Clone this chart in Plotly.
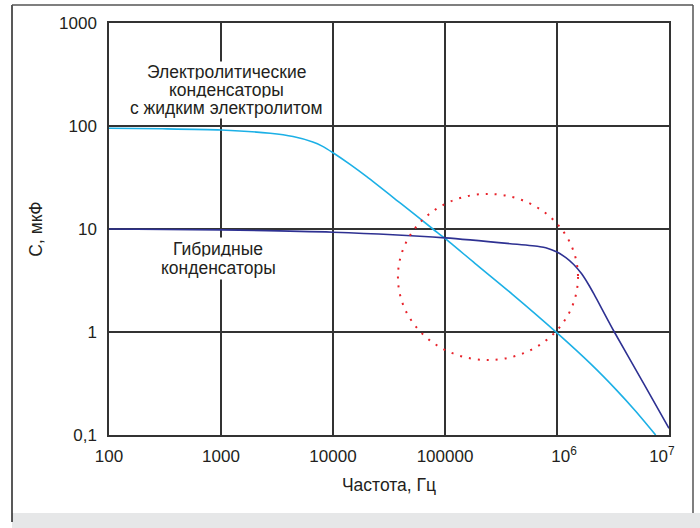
import numpy as np
import plotly.graph_objects as go

# ---- data ----
freq_electrolytic = [100, 300, 1000, 2750, 4400, 6600, 8000, 10000, 14200, 20000,
                     40000, 78000, 100000, 185000, 400000, 1000000, 2000000, 3400000,
                     5000000, 7600000]
cap_electrolytic = [95, 94, 91.5, 85, 79, 70, 63.8, 55, 42.4, 32.2,
                    17.8, 10, 8.1, 4.64, 2.32, 0.98, 0.49, 0.273,
                    0.172, 0.1]

freq_hybrid = [100, 1000, 10000, 100000, 440000, 705000, 794000, 1000000, 1200000,
               1410000, 1660000, 1905000, 2140000, 3250000, 6000000, 10000000]
cap_hybrid = [10, 9.8, 9.3, 8.2, 7.1, 6.73, 6.57, 5.97, 5.27,
              4.52, 3.67, 2.91, 2.33, 1.0, 0.31, 0.116]

highlight_freq = [3.8e4, 1.54e6]
highlight_cap = [0.535, 21.9]

NB = "\u00a0"
x_tickvals = [100, 1000, 10000, 100000, 1e6, 1e7]
x_ticktext = ["100", "1000", "10000", "100000", NB * 3 + "10<sup>6</sup>",
              "10<sup>7</sup>" + NB * 3]
y_tickvals = [0.1, 1, 10, 100, 1000]
y_ticktext = ["0,1", "1", "10", "100", "1000"]

label_electrolytic = ["Электролитические", "конденсаторы", "с жидким электролитом"]
label_hybrid = ["Гибридные", "конденсаторы"]

x_title = "Частота, Гц"
y_title = "С, мкФ"

X_RANGE = [2, 7]
Y_RANGE = [-1, 3]

# ---- layout geometry (pixels) ----
W, H = 700, 528
L, R, T, B = 109, 669, 23, 435
PW, PH = R - L, B - T


def px(X):
    return (X - L) / PW


def py(Y):
    return (B - Y) / PH


def xdom(v):
    return (np.log10(v) - X_RANGE[0]) / (X_RANGE[1] - X_RANGE[0])


def ydom(v):
    return (np.log10(v) - Y_RANGE[0]) / (Y_RANGE[1] - Y_RANGE[0])


FONT = "Liberation Sans, Arial, sans-serif"
TXT = "#231f20"
GRID = "#333333"

fig = go.Figure()
fig.add_trace(go.Scatter(x=freq_electrolytic, y=cap_electrolytic, mode="lines",
                         line=dict(color="#1cb0e6", width=1.6, shape="spline", smoothing=0.7),
                         showlegend=False, hoverinfo="skip"))
fig.add_trace(go.Scatter(x=freq_hybrid, y=cap_hybrid, mode="lines",
                         line=dict(color="#2e3192", width=1.6, shape="spline", smoothing=0.7),
                         showlegend=False, hoverinfo="skip"))

shapes = []
# outer frame
shapes.append(dict(type="rect", xref="paper", yref="paper",
                   x0=px(12), x1=px(700), y0=py(513), y1=py(528),
                   fillcolor="#e6e7e8", line=dict(width=0), layer="below"))
shapes.append(dict(type="line", xref="paper", yref="paper",
                   x0=px(12), x1=px(12), y0=py(5), y1=py(522),
                   line=dict(color="#222222", width=1.5)))
shapes.append(dict(type="line", xref="paper", yref="paper",
                   x0=px(12), x1=px(693), y0=py(5), y1=py(5),
                   line=dict(color="#555555", width=1.5)))
shapes.append(dict(type="line", xref="paper", yref="paper",
                   x0=px(693), x1=px(693), y0=py(5), y1=py(513),
                   line=dict(color="#555555", width=1.5)))
# dotted highlight circle
shapes.append(dict(type="circle", xref="x domain", yref="y domain",
                   x0=xdom(highlight_freq[0]), x1=xdom(highlight_freq[1]),
                   y0=ydom(highlight_cap[0]), y1=ydom(highlight_cap[1]),
                   line=dict(color="#e8232b", width=2, dash="2px,7px")))

annotations = []
for i, line in enumerate(label_electrolytic):
    annotations.append(dict(text=line, xref="paper", yref="paper",
                            x=px(226), y=py(72 + 17.8 * i), showarrow=False,
                            xanchor="center", yanchor="middle",
                            font=dict(family=FONT, size=17.5, color=TXT),
                            bgcolor="white", borderpad=0))
for i, line in enumerate(label_hybrid):
    annotations.append(dict(text=line, xref="paper", yref="paper",
                            x=px(218), y=py(249 + 19 * i), showarrow=False,
                            xanchor="center", yanchor="middle",
                            font=dict(family=FONT, size=17.5, color=TXT),
                            bgcolor="white", borderpad=1))

fig.update_layout(
    width=W, height=H,
    margin=dict(l=L, r=W - R, t=T, b=H - B),
    paper_bgcolor="white", plot_bgcolor="white",
    shapes=shapes, annotations=annotations,
    font=dict(family=FONT, color=TXT, size=17),
)
fig.update_xaxes(type="log", range=X_RANGE, tickvals=x_tickvals, ticktext=x_ticktext,
                 showgrid=True, gridcolor=GRID, gridwidth=1.5,
                 showline=True, linecolor=GRID, linewidth=1.5, mirror=True,
                 ticks="", ticklabelstandoff=5, zeroline=False,
                 tickfont=dict(family=FONT, size=17, color=TXT),
                 title=dict(text=x_title, font=dict(family=FONT, size=17.5, color=TXT), standoff=14))
fig.update_yaxes(type="log", range=Y_RANGE, tickvals=y_tickvals, ticktext=y_ticktext,
                 showgrid=True, gridcolor=GRID, gridwidth=1.5,
                 showline=True, linecolor=GRID, linewidth=1.5, mirror=True,
                 ticks="", ticklabelstandoff=7, zeroline=False,
                 tickfont=dict(family=FONT, size=17, color=TXT),
                 title=dict(text=y_title, font=dict(family=FONT, size=17.5, color=TXT), standoff=12))

fig.write_html("out.html", config={"displayModeBar": False},
               post_script="document.body.style.margin='0';")
